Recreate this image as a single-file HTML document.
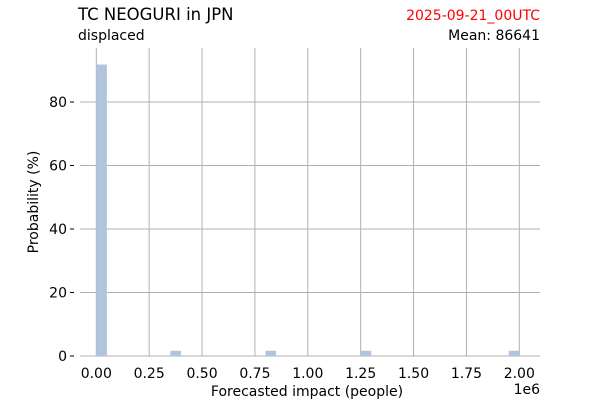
<!DOCTYPE html>
<html><head><meta charset="utf-8"><style>
body{margin:0;background:#fff;font-family:"DejaVu Sans","Liberation Sans",sans-serif}
svg text{font-family:"DejaVu Sans","Liberation Sans",sans-serif}
</style></head><body>
<svg id="c" width="600" height="400" viewBox="0 0 600 400">
<text x="78" y="20" font-size="16.5">TC NEOGURI in JPN</text>
<text x="78" y="40" font-size="14">displaced</text>
<text x="540" y="20" font-size="14" fill="red" text-anchor="end">2025-09-21_00UTC</text>
<text x="540" y="40" font-size="14" text-anchor="end">Mean: 86641</text>
<g id="grid"></g><g id="bars"></g><g id="axes"></g>
<text x="307" y="396" font-size="14" text-anchor="middle">Forecasted impact (people)</text>
<text x="540" y="394" font-size="14" text-anchor="end">1e6</text>
<text transform="translate(38,202) rotate(-90)" font-size="14" text-anchor="middle">Probability (%)</text>
</svg>
<script>
const binStarts=[0,0.35,0.80,1.25,1.95];
const binWidth=0.05;
const probs=[91.8,1.64,1.64,1.64,1.64];
const xTicks=[0,0.25,0.5,0.75,1.0,1.25,1.5,1.75,2.0];
const xTickLabels=["0.00","0.25","0.50","0.75","1.00","1.25","1.50","1.75","2.00"];
const yTicks=[0,20,40,60,80];
const NS="http://www.w3.org/2000/svg";
const x=v=>96.3+v*211.5, y=v=>356-v*3.175;
function mk(t,a,p){const e=document.createElementNS(NS,t);for(const k in a)e.setAttribute(k,a[k]);p.appendChild(e);return e;}
const g=document.getElementById('grid'),b=document.getElementById('bars'),ax=document.getElementById('axes');
xTicks.forEach((t,i)=>{
 const l=mk('line',{x1:x(t),x2:x(t),y1:48,y2:356,stroke:'#b0b0b0','stroke-width':1},g);
 
 
 const tx=mk('text',{x:x(t),y:378,'font-size':14,'text-anchor':'middle'},ax);
 tx.textContent=xTickLabels[i];
 
 
});
yTicks.forEach(t=>{
 const l=mk('line',{x1:80,x2:540,y1:y(t),y2:y(t),stroke:'#b0b0b0','stroke-width':1},g);
 
 
 const tk=mk('line',{x1:70,x2:74,y1:y(t),y2:y(t),stroke:'#000','stroke-width':1},ax);
 
 
 const tx=mk('text',{x:67,y:y(t)+5,'font-size':14,'text-anchor':'end'},ax);
 tx.textContent=t;
 
 
});
binStarts.forEach((s,i)=>{
 const r=mk('rect',{x:x(s),y:y(probs[i]),width:x(s+binWidth)-x(s),height:y(0)-y(probs[i]),fill:'#b0c4de'},b);
 
 
});
</script>
</body></html>
